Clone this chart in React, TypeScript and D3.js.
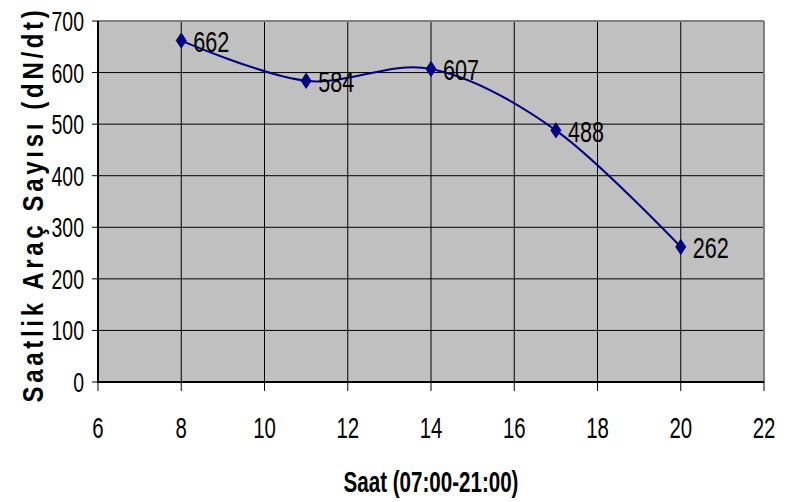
import React from "react";
import * as d3 from "d3";

const hours = [8, 11, 14, 17, 20];
const counts = [662, 584, 607, 488, 262];
const xTicks = [6, 8, 10, 12, 14, 16, 18, 20, 22];
const yTicks = [0, 100, 200, 300, 400, 500, 600, 700];
const xTitle = "Saat (07:00-21:00)";
const yTitle = "Saatlik Araç Sayısı (dN/dt)";

const W = 791;
const H = 502;
const L = 98, R = 764, T = 21, B = 382;
const FONT = "'Liberation Sans', Arial, sans-serif";

export default function App() {
  const x = d3.scaleLinear().domain([6, 22]).range([L, R]);
  const y = d3.scaleLinear().domain([0, 700]).range([B, T]);
  const pts: [number, number][] = hours.map((h, i) => [x(h), y(counts[i])]);
  const line = d3.line().curve(d3.curveCardinal.tension(0))(pts) || "";

  return (
    <svg width={W} height={H} style={{ position: "absolute", left: 0, top: 0, background: "#fff" }}>
      <rect x={L} y={T} width={R - L} height={B - T} fill="#C0C0C0" />
      {xTicks.slice(1, -1).map((t) => (
        <line key={"gx" + t} x1={x(t)} x2={x(t)} y1={T} y2={B} stroke="#000" strokeWidth={1} />
      ))}
      {yTicks.slice(1, -1).map((t) => (
        <line key={"gy" + t} x1={L} x2={R} y1={y(t)} y2={y(t)} stroke="#000" strokeWidth={1} />
      ))}
      <line x1={L} x2={R} y1={T} y2={T} stroke="#808080" strokeWidth={2} />
      <line x1={R} x2={R} y1={T} y2={B} stroke="#808080" strokeWidth={2} />
      <line x1={L} x2={L} y1={T} y2={B + 1} stroke="#000" strokeWidth={2} />
      <line x1={L} x2={R} y1={B} y2={B} stroke="#000" strokeWidth={2} />
      {yTicks.map((t) => (
        <g key={"ty" + t}>
          <line x1={L - 6} x2={L} y1={y(t)} y2={y(t)} stroke="#000" strokeWidth={1} />
          <text
            transform={`translate(${L - 14},${y(t) + 10}) scale(0.72,1)`}
            textAnchor="end"
            fontFamily={FONT}
            fontSize={27}
            fill="#000"
          >
            {t}
          </text>
        </g>
      ))}
      {xTicks.map((t) => (
        <g key={"tx" + t}>
          <line x1={x(t)} x2={x(t)} y1={B} y2={B + 9} stroke="#000" strokeWidth={1} />
          <text
            transform={`translate(${x(t)},438) scale(0.68,1)`}
            textAnchor="middle"
            fontFamily={FONT}
            fontSize={30}
            fill="#000"
          >
            {t}
          </text>
        </g>
      ))}
      <path d={line} fill="none" stroke="#000080" strokeWidth={2} />
      {pts.map(([px, py], i) => (
        <g key={"p" + i}>
          <path
            d={`M${px},${py - 7.5}L${px + 5},${py}L${px},${py + 7.5}L${px - 5},${py}Z`}
            fill="#000080"
            stroke="#000080"
            strokeWidth={1}
          />
          <text
            transform={`translate(${px + 12},${py + 11.5}) scale(0.72,1)`}
            fontFamily={FONT}
            fontSize={30}
            fill="#000"
          >
            {counts[i]}
          </text>
        </g>
      ))}
      <text
        transform={`translate(${(L + R) / 2},492) scale(0.71,1)`}
        textAnchor="middle"
        fontFamily={FONT}
        fontWeight="bold"
        fontSize={29}
        fill="#000"
      >
        {xTitle}
      </text>
      <text
        transform={`translate(43,${(T + B) / 2 + 3}) rotate(-90) scale(0.8,1)`}
        textAnchor="middle"
        fontFamily={FONT}
        fontWeight="bold"
        fontSize={30}
        letterSpacing={4.6}
        fill="#000"
      >
        {yTitle}
      </text>
    </svg>
  );
}
